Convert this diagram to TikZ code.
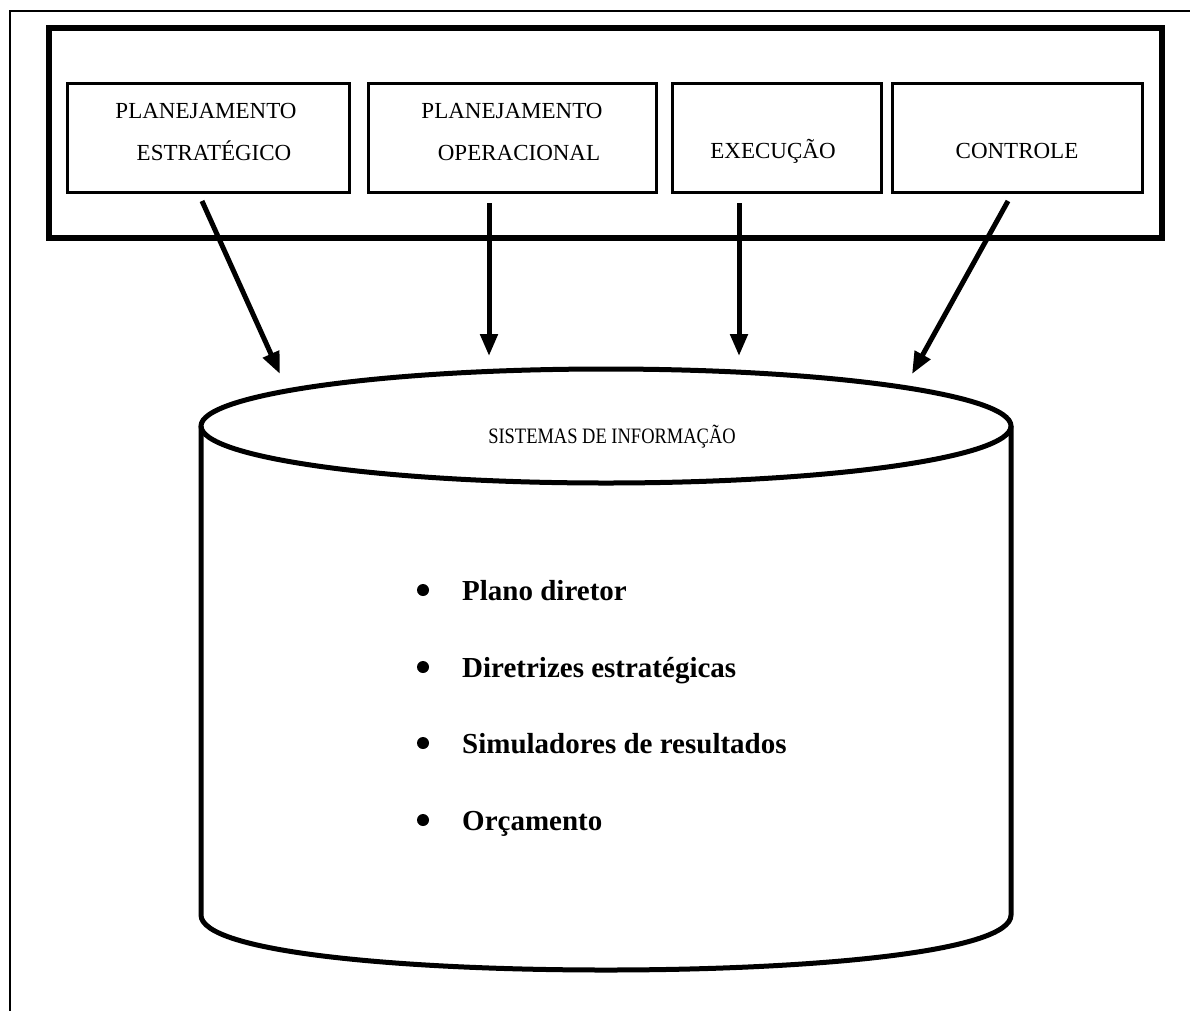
\documentclass[tikz,border=0pt]{standalone}
\usepackage{fontspec}
\setmainfont{Liberation Serif}
\usetikzlibrary{arrows.meta}
\begin{document}
\begin{tikzpicture}[x=1pt,y=-1pt,
  frame/.style={line width=1.5pt},
  panel/.style={line width=5.5pt},
  stagebox/.style={draw,line width=3pt,inner sep=0pt,outer sep=0pt},
  flow/.style={line width=5pt,-{Triangle[length=22pt,width=17pt]}},
  lbl/.style={font=\fontsize{23}{27}\selectfont,anchor=base,inner sep=0pt},
  bullet/.style={circle,fill,minimum size=12pt,inner sep=0pt},
  item/.style={font=\fontsize{29}{34}\selectfont\bfseries,anchor=base west,inner sep=0pt},
  db/.style={line width=5pt}]
\useasboundingbox (0,0) rectangle (1190,1010);

% page frame
\draw[frame] (10,1012) -- (10,11) -- (1192,11);

% process panel
\draw[panel] (49,28) rectangle (1162,238);

% stage boxes
\node[stagebox,minimum width=282pt,minimum height=109pt] (s1) at (208,137.5) {};
\node[stagebox,minimum width=288pt,minimum height=109pt] (s2) at (512,137.5) {};
\node[stagebox,minimum width=209pt,minimum height=109pt] (s3) at (776.5,137.5) {};
\node[stagebox,minimum width=250pt,minimum height=109pt] (s4) at (1017,137.5) {};

\node[lbl] (s1a) at (206,118) {PLANEJAMENTO};
\node[lbl] (s1b) at (214,160) {ESTRATÉGICO};
\node[lbl] (s2a) at (512,118) {PLANEJAMENTO};
\node[lbl] (s2b) at (519,160) {OPERACIONAL};
\node[lbl] (s3a) at (773,158) {EXECUÇÃO};
\node[lbl] (s4a) at (1017,158) {CONTROLE};

% arrow end points
\coordinate (a1s) at (202,201);
\coordinate (a1e) at (280,374);
\coordinate (a2s) at (489,203);
\coordinate (a2e) at (489,356);
\coordinate (a3s) at (739,203);
\coordinate (a3e) at (739,356);
\coordinate (a4s) at (1008,201);
\coordinate (a4e) at (912,374);

\draw[flow] (a1s) -- (a1e);
\draw[flow] (a2s) -- (a2e);
\draw[flow] (a3s) -- (a3e);
\draw[flow] (a4s) -- (a4e);

% information system cylinder
\draw[db] (606,426) ellipse [x radius=405pt, y radius=57pt];
\draw[db] (201,426) -- (201,915)
  .. controls (201,952) and (400,970) .. (606,970)
  .. controls (812,970) and (1011,952) .. (1011,915) -- (1011,426);

\node[font=\fontsize{22}{26}\selectfont,inner sep=0pt,xscale=0.84] (db) at (612,437) {SISTEMAS DE INFORMAÇÃO};

\node[bullet] (b1) at (423,590) {};
\node[bullet] (b2) at (423,667) {};
\node[bullet] (b3) at (423,743) {};
\node[bullet] (b4) at (423,820) {};
\node[item] (i1) at (462,600) {Plano diretor};
\node[item] (i2) at (462,677) {Diretrizes estratégicas};
\node[item] (i3) at (462,753) {Simuladores de resultados};
\node[item] (i4) at (462,830) {Orçamento};
\end{tikzpicture}
\end{document}
